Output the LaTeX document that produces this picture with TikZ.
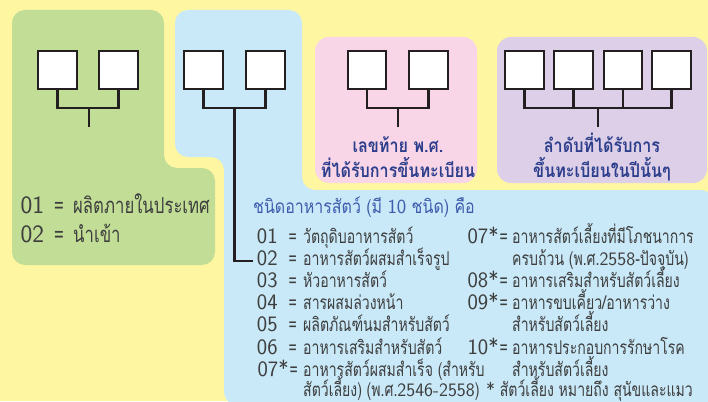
\documentclass[tikz,border=0pt]{standalone}
\usepackage{fontspec}
\newfontfamily\thai[Script=Thai,FakeStretch=0.74]{Loma}
\newfontfamily\thait[Script=Thai,FakeStretch=0.84]{Loma}
\newfontfamily\thaig[Script=Thai,FakeStretch=0.76]{Loma}
\newfontfamily\thaih[Script=Thai,FakeStretch=0.85]{Loma}
\newcommand\dg{\sffamily\fontsize{19}{19}\selectfont}
\newcommand\eq{{\thai\fontsize{19}{19}\selectfont =}}
\newcommand\eqb{{\thaig\fontsize{22}{22}\selectfont =}}
\definecolor{bgyellow}{RGB}{255,246,162}
\definecolor{lgreen}{RGB}{193,221,150}
\definecolor{lblue}{RGB}{201,233,248}
\definecolor{lpink}{RGB}{248,214,231}
\definecolor{lpurple}{RGB}{220,207,231}
\definecolor{hblue}{RGB}{44,62,140}
\definecolor{tblue}{RGB}{62,92,172}
\definecolor{tgray}{RGB}{62,62,62}
\definecolor{ink}{RGB}{35,31,32}
\tikzset{
  cell/.style={draw=ink,fill=white,line width=2.3pt,minimum size=38.5pt,inner sep=0pt},
  conn/.style={draw=ink,line width=2.6pt},
  txt/.style={anchor=base west,inner sep=0pt,text=tgray,font=\thai\fontsize{19}{19}\selectfont},
  num/.style={anchor=base east,inner sep=0pt,text=tgray,font=\sffamily\fontsize{22}{22}\selectfont},
  bignum/.style={anchor=base east,inner sep=0pt,text=tgray,font=\sffamily\fontsize{25}{25}\selectfont},
  big/.style={anchor=base west,inner sep=0pt,text=tgray,font=\thaig\fontsize{22}{22}\selectfont},
  head/.style={anchor=base,inner sep=0pt,text=hblue,font=\thaih\bfseries\fontsize{19}{19}\selectfont},
}
\begin{document}
\begin{tikzpicture}[x=1pt,y=-1pt]
\useasboundingbox (0,0) rectangle (708,401);
\fill[bgyellow] (0,0) rectangle (708,401);
\begin{scope}
\clip (0,0) rectangle (708,401);
% green region
\fill[lgreen,rounded corners=13pt] (12,10) -- (164,10) -- (164,168) -- (215,168) -- (215,265) -- (12,265) -- cycle;
% blue region
\fill[lblue,rounded corners=13pt] (175,10) -- (302,10) -- (302,190) -- (714,190) -- (714,405) -- (224,405) -- (224,157) -- (175,157) -- cycle;
\fill[lpink,rounded corners=14pt] (315,37) rectangle (477,183);
\fill[lpurple,rounded corners=14pt] (497,37) rectangle (707,183);
\end{scope}
% boxes
\node[cell] (g1) at (57.5,70) {};
\node[cell] (g2) at (118.5,70) {};
\node[cell] (b1) at (203.5,70) {};
\node[cell] (b2) at (265.5,70) {};
\node[cell] (p1) at (367,70) {};
\node[cell] (p2) at (428.5,70) {};
\node[cell] (q1) at (524.5,70) {};
\node[cell] (q2) at (573.5,70) {};
\node[cell] (q3) at (623,70) {};
\node[cell] (q4) at (671.5,70) {};
% connectors
\coordinate (gm) at (89,108);
\coordinate (gt) at (89,127);
\draw[conn] (g1.south) |- (gm) -| (g2.south);
\draw[conn] (gm) -- (gt);
\coordinate (bm) at (234.5,108);
\coordinate (be) at (253,261);
\draw[conn] (b1.south) |- (bm) -| (b2.south);
\draw[conn] (bm) |- (be);
\coordinate (pm) at (398,108);
\coordinate (pt) at (398,127);
\draw[conn] (p1.south) |- (pm) -| (p2.south);
\draw[conn] (pm) -- (pt);
\coordinate (qm) at (598,108);
\coordinate (qt) at (598,127);
\draw[conn] (q1.south) |- (qm) -| (q4.south);
\draw[conn] (q2.south) -- (q2.south |- qm);
\draw[conn] (q3.south) -- (q3.south |- qm);
\draw[conn] (qm) -- (qt);
% headings
\node[head] (ph1) at (398,152) {เลขท้าย พ.ศ.};
\node[head] (ph2) at (398,177) {ที่ได้รับการขึ้นทะเบียน};
\node[head] (qh1) at (602,152) {ลำดับที่ได้รับการ};
\node[head] (qh2) at (602,177) {ขึ้นทะเบียนในปีนั้นๆ};
% green text
\node[bignum] (o1n) at (64,213) {01\hspace{10pt}\eqb};
\node[big] (o1) at (73,213) {ผลิตภายในประเทศ};
\node[bignum] (o2n) at (64,242) {02\hspace{10pt}\eqb};
\node[big] (o2) at (73,242) {นำเข้า};
% title
\node[txt,text=tblue,font=\thait\fontsize{19}{19}\selectfont] (title) at (253,213) {ชนิดอาหารสัตว์ (มี {\sffamily\fontsize{20}{20}\selectfont 10} ชนิด) คือ};
% left column
\node[num] (n01) at (297,243) {01\hspace{11pt}\eq};
\node[txt] (t01) at (303,243) {วัตถุดิบอาหารสัตว์};
\node[num] (n02) at (297,265) {02\hspace{11pt}\eq};
\node[txt] (t02) at (303,265) {อาหารสัตว์ผสมสำเร็จรูป};
\node[num] (n03) at (297,287.5) {03\hspace{11pt}\eq};
\node[txt] (t03) at (303,287.5) {หัวอาหารสัตว์};
\node[num] (n04) at (297,309) {04\hspace{11pt}\eq};
\node[txt] (t04) at (303,309) {สารผสมล่วงหน้า};
\node[num] (n05) at (297,331.5) {05\hspace{11pt}\eq};
\node[txt] (t05) at (303,331.5) {ผลิตภัณฑ์นมสำหรับสัตว์};
\node[num] (n06) at (297,354) {06\hspace{11pt}\eq};
\node[txt] (t06) at (303,354) {อาหารเสริมสำหรับสัตว์};
\node[num] (n07) at (298,376.5) {07*\hspace{1pt}\eq};
\node[txt] (t07) at (303,376.5) {อาหารสัตว์ผสมสำเร็จ (สำหรับ};
\node[txt] (t07b) at (303,396.5) {สัตว์เลี้ยง) (พ.ศ.{\dg 2546-2558})};
% right column
\node[num] (m07) at (508,243) {07*\hspace{1pt}\eq};
\node[txt] (s07) at (512,243) {อาหารสัตว์เลี้ยงที่มีโภชนาการ};
\node[txt] (s07b) at (512,265) {ครบถ้วน (พ.ศ.{\dg 2558}-ปัจจุบัน)};
\node[num] (m08) at (508,287.5) {08*\hspace{1pt}\eq};
\node[txt] (s08) at (512,287.5) {อาหารเสริมสำหรับสัตว์เลี้ยง};
\node[num] (m09) at (508,309) {09*\hspace{1pt}\eq};
\node[txt] (s09) at (512,309) {อาหารขบเคี้ยว/อาหารว่าง};
\node[txt] (s09b) at (512,331.5) {สำหรับสัตว์เลี้ยง};
\node[num] (m10) at (508,354) {10*\hspace{1pt}\eq};
\node[txt] (s10) at (512,354) {อาหารประกอบการรักษาโรค};
\node[txt] (s10b) at (512,376.5) {สำหรับสัตว์เลี้ยง};
\node[txt] (note) at (486,396.5) {{\dg *} สัตว์เลี้ยง หมายถึง สุนัขและแมว};
\end{tikzpicture}
\end{document}
